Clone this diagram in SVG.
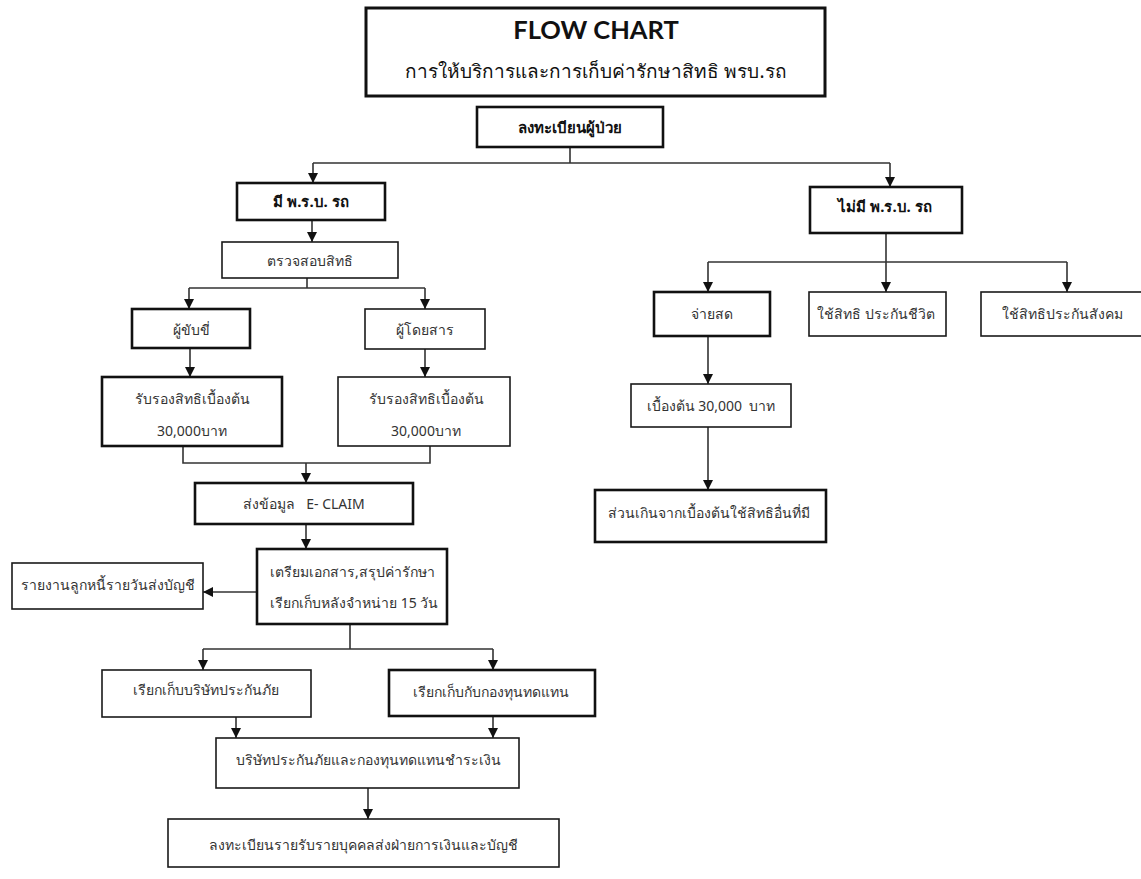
<svg xmlns="http://www.w3.org/2000/svg" width="1141" height="879" viewBox="0 0 1141 879">
<defs>
<style>
.bx{fill:#fff;stroke:#1a1a1a;stroke-width:1.6}
.bk{fill:#fff;stroke:#111;stroke-width:2.6}
.t{font-family:"Noto Sans","DejaVu Sans",sans-serif;font-size:14px;fill:#333;text-anchor:middle}
.tb{font-family:"Noto Sans","DejaVu Sans",sans-serif;font-size:15px;font-weight:bold;fill:#111;text-anchor:middle}
.ln{fill:none;stroke:#333;stroke-width:1.6}
</style>
<marker id="ar" viewBox="0 0 10 10" refX="10" refY="5" markerWidth="10" markerHeight="10" markerUnits="userSpaceOnUse" orient="auto">
<path d="M0,0 L10,5 L0,10 z" fill="#111"/>
</marker>
</defs>
<rect width="1141" height="879" fill="#fff"/>
<g id="connectors">
<path class="ln" d="M570,147 V163 M313,163 H890"/>
<path class="ln" d="M313,163 V183" marker-end="url(#ar)"/>
<path class="ln" d="M890,163 V187" marker-end="url(#ar)"/>
<path class="ln" d="M312,220 V242" marker-end="url(#ar)"/>
<path class="ln" d="M307,278 V288 M189,288 H425"/>
<path class="ln" d="M189,288 V309" marker-end="url(#ar)"/>
<path class="ln" d="M425,288 V309" marker-end="url(#ar)"/>
<path class="ln" d="M190,348 V377" marker-end="url(#ar)"/>
<path class="ln" d="M425,349 V377" marker-end="url(#ar)"/>
<path class="ln" d="M183,446 V463 H430 V446"/>
<path class="ln" d="M306,463 V483" marker-end="url(#ar)"/>
<path class="ln" d="M306,524 V549" marker-end="url(#ar)"/>
<path class="ln" d="M257,592 H203" marker-end="url(#ar)"/>
<path class="ln" d="M350,624 V649 M203,649 H493"/>
<path class="ln" d="M203,649 V670" marker-end="url(#ar)"/>
<path class="ln" d="M493,649 V670" marker-end="url(#ar)"/>
<path class="ln" d="M236,717 V738" marker-end="url(#ar)"/>
<path class="ln" d="M493,716 V738" marker-end="url(#ar)"/>
<path class="ln" d="M368,788 V819" marker-end="url(#ar)"/>
<path class="ln" d="M886,233 V292" marker-end="url(#ar)"/>
<path class="ln" d="M708,262 H1067"/>
<path class="ln" d="M708,262 V292" marker-end="url(#ar)"/>
<path class="ln" d="M1067,262 V292" marker-end="url(#ar)"/>
<path class="ln" d="M708,336 V384" marker-end="url(#ar)"/>
<path class="ln" d="M708,427 V490" marker-end="url(#ar)"/>
</g>
<g id="title">
<rect x="366" y="8" width="459" height="88" fill="#fff" stroke="#111" stroke-width="3"/>
<text x="596" y="39" font-family="Lato,'Open Sans',sans-serif" font-size="25.5" font-weight="bold" fill="#111" text-anchor="middle">FLOW CHART</text>
<text x="596" y="78" font-family="'Noto Sans','DejaVu Sans',sans-serif" font-size="19" fill="#111" text-anchor="middle">การให้บริการและการเก็บค่ารักษาสิทธิ พรบ.รถ</text>
</g>
<g id="n-register"><rect class="bk" x="477" y="107" width="186" height="40"/><text class="tb" x="570" y="133">ลงทะเบียนผู้ป่วย</text></g>
<g id="n-has"><rect class="bk" x="237" y="183" width="148" height="37"/><text class="tb" x="311" y="207">มี พ.ร.บ. รถ</text></g>
<g id="n-check"><rect class="bx" x="222" y="242" width="176" height="36"/><text class="t" x="310" y="266">ตรวจสอบสิทธิ</text></g>
<g id="n-driver"><rect class="bk" x="132" y="309" width="118" height="39"/><text class="t" x="191" y="335">ผู้ขับขี่</text></g>
<g id="n-passenger"><rect class="bx" x="365" y="309" width="120" height="40"/><text class="t" x="425" y="335">ผู้โดยสาร</text></g>
<g id="n-cover1"><rect class="bk" x="102" y="377" width="180" height="69"/><text class="t" x="192" y="404">รับรองสิทธิเบื้องต้น</text><text class="t" x="192" y="436">30,000บาท</text></g>
<g id="n-cover2"><rect class="bx" x="338" y="377" width="172" height="69"/><text class="t" x="426" y="404">รับรองสิทธิเบื้องต้น</text><text class="t" x="426" y="436">30,000บาท</text></g>
<g id="n-eclaim"><rect class="bk" x="195" y="483" width="218" height="41"/><text class="t" x="304" y="509" xml:space="preserve">ส่งข้อมูล   E- CLAIM</text></g>
<g id="n-prepare"><rect class="bk" x="257" y="549" width="190" height="75"/><text class="t" x="270" y="577" style="text-anchor:start">เตรียมเอกสาร,สรุปค่ารักษา</text><text class="t" x="270" y="608" style="text-anchor:start">เรียกเก็บหลังจำหน่าย 15 วัน</text></g>
<g id="n-report"><rect class="bx" x="12" y="563" width="191" height="46"/><text class="t" x="108" y="590">รายงานลูกหนี้รายวันส่งบัญชี</text></g>
<g id="n-insurer"><rect class="bx" x="102" y="670" width="209" height="47"/><text class="t" x="206" y="695">เรียกเก็บบริษัทประกันภัย</text></g>
<g id="n-fund"><rect class="bk" x="389" y="670" width="206" height="46"/><text class="t" x="491" y="697">เรียกเก็บกับกองทุนทดแทน</text></g>
<g id="n-paid"><rect class="bx" x="216" y="738" width="303" height="50"/><text class="t" x="368" y="765">บริษัทประกันภัยและกองทุนทดแทนชำระเงิน</text></g>
<g id="n-record"><rect class="bx" x="168" y="819" width="391" height="48"/><text class="t" x="363" y="850">ลงทะเบียนรายรับรายบุคคลส่งฝ่ายการเงินและบัญชี</text></g>
<g id="n-nothas"><rect class="bk" x="810" y="187" width="152" height="46"/><text class="tb" x="885" y="212">ไม่มี พ.ร.บ. รถ</text></g>
<g id="n-cash"><rect class="bk" x="654" y="292" width="116" height="44"/><text class="t" x="712" y="319">จ่ายสด</text></g>
<g id="n-life"><rect class="bx" x="809" y="292" width="137" height="44"/><text class="t" x="876" y="319">ใช้สิทธิ ประกันชีวิต</text></g>
<g id="n-social"><rect class="bx" x="981" y="292" width="165" height="44"/><text class="t" x="1062" y="319">ใช้สิทธิประกันสังคม</text></g>
<g id="n-initial"><rect class="bx" x="631" y="384" width="160" height="43"/><text class="t" x="711" y="411" xml:space="preserve">เบื้องต้น 30,000  บาท</text></g>
<g id="n-excess"><rect class="bk" x="595" y="490" width="231" height="52"/><text class="t" x="608" y="518" style="text-anchor:start">ส่วนเกินจากเบื้องต้นใช้สิทธิอื่นที่มี</text></g>
</svg>
